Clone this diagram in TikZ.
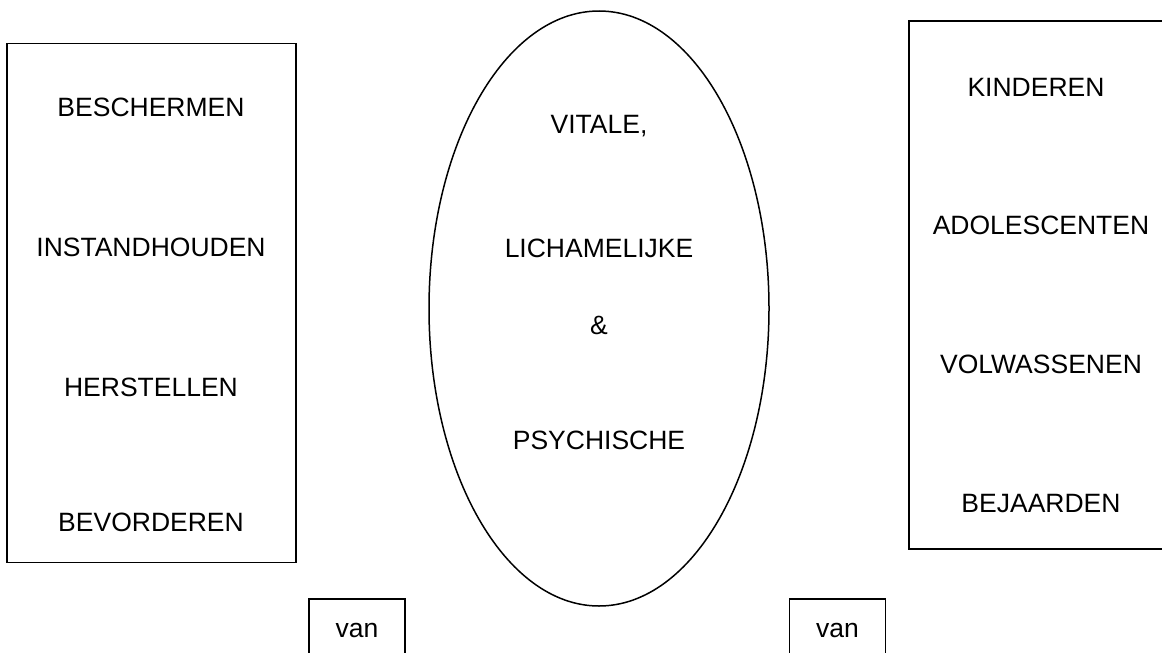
\documentclass[tikz,border=0pt]{standalone}
\usepackage{fontspec}
\setmainfont{Liberation Sans}
\usepackage{xcolor}
\usetikzlibrary{shapes.geometric, positioning}
\tikzset{
  % big frame round a column of words
  colbox/.style={
    draw
    , line width=1.5pt
    , inner sep=0pt
    , anchor=center
  },
}
\tikzset{
  % oval in the middle
  midoval/.style={
    draw
    , ellipse
    , line width=1.5pt
    , inner sep=0pt
    , minimum width=340pt
    , minimum height=595pt
  },
}
\tikzset{
  % small box with a word
  vanbox/.style={
    draw
    , line width=1.5pt
    , inner sep=0pt
    , minimum width=96pt
    , minimum height=70pt
  },
}
\tikzset{
  % word in a column
  woord/.style={
    font=\fontsize{26.5}{30}\selectfont
    , anchor=base
    , inner sep=0pt
  },
}

\begin{document}
\begin{tikzpicture}[x=1pt, y=-1pt]
  \useasboundingbox (0,0) rectangle (1162,653);
  \clip (0,0) rectangle (1162,653);
  % left column
  \node[colbox, minimum width=289pt, minimum height=519pt] (links) at (151.5,303) {};
  \node[woord] (beschermen) at (151,116) {BESCHERMEN};
  \node[woord] (instand) at (151,256) {INSTANDHOUDEN};
  \node[woord] (herstellen) at (151,396) {HERSTELLEN};
  \node[woord] (bevorderen) at (151,531) {BEVORDEREN};
  % middle
  \node[midoval] (ovaal) at (599,308.5) {};
  \node[woord] (vitale) at (599,133) {VITALE,};
  \node[woord] (lichamelijk) at (599,257) {LICHAMELIJKE};
  \node[woord] (en) at (599,334) {\&};
  \node[woord] (psychisch) at (599,449) {PSYCHISCHE};
  % right column (runs off the page)
  \node[colbox, minimum width=266pt, minimum height=528pt] (rechts) at (1042,285) {};
  \node[woord] (kinderen) at (1036,96) {KINDEREN};
  \node[woord] (adolesc) at (1041,234) {ADOLESCENTEN};
  \node[woord] (volwassen) at (1041,373) {VOLWASSENEN};
  \node[woord] (bejaarden) at (1041,512) {BEJAARDEN};
  % van boxes
  \node[vanbox] (vanlinks) at (357,634) {};
  \node[woord] (vanl) at (vanlinks.north |- 0,637) {van};
  \node[vanbox] (vanrechts) at (837.5,634) {};
  \node[woord] (vanr) at (vanrechts.north |- 0,637) {van};
\end{tikzpicture}
\end{document}
